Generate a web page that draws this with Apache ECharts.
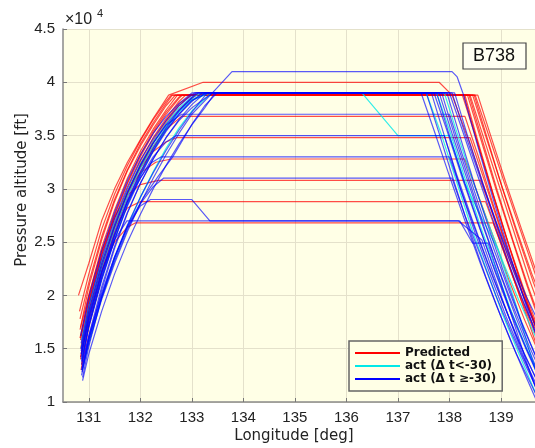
<!DOCTYPE html>
<html>
<head>
<meta charset="utf-8">
<title>B738 pressure altitude</title>
<script src="https://cdn.jsdelivr.net/npm/echarts@6/dist/echarts.min.js"></script>
<style>
html, body { margin: 0; padding: 0; background: #fff; }
#main { width: 535px; height: 448px; }
</style>
</head>
<body>
<div id="main"></div>
<script>
// tick values
const lonTicks = [131, 132, 133, 134, 135, 136, 137, 138, 139];
const altTicks = [1, 1.5, 2, 2.5, 3, 3.5, 4, 4.5];

// tracks: [longitude deg, pressure altitude x10^4 ft]
// predicted profiles (red)
const predicted = [
	[[130.8,2.0],[131,2.3],[131.25,2.7],[131.5,3.0],[131.75,3.25],[132,3.46],[132.25,3.66],[132.55,3.88],[133.22,4.0],[137.8,4.0],[138.05,3.88],[138.4,3.42],[138.7,2.97],[139.0,2.52],[139.3,2.08],[139.7,1.52]],
	[[130.82,1.85],[131,2.2],[131.25,2.62],[131.5,2.95],[131.75,3.22],[132,3.45],[132.25,3.65],[132.5,3.82],[132.6,3.88],[138.25,3.88],[138.5,3.5],[138.8,3.02],[139.1,2.55],[139.4,2.1],[139.7,1.65]],
	[[130.84,1.7],[131,2.08],[131.25,2.52],[131.5,2.88],[131.75,3.17],[132,3.4],[132.25,3.6],[132.5,3.78],[132.68,3.88],[138.4,3.88],[138.65,3.5],[138.95,3.05],[139.25,2.6],[139.55,2.15],[139.7,1.95]],
	[[130.83,1.6],[131,2.0],[131.25,2.45],[131.5,2.8],[131.75,3.1],[132,3.35],[132.25,3.56],[132.5,3.74],[132.72,3.88],[138.5,3.88],[138.75,3.52],[139.05,3.08],[139.35,2.65],[139.7,2.15]],
	[[130.85,1.5],[131,1.92],[131.25,2.38],[131.5,2.75],[131.75,3.05],[132,3.3],[132.25,3.52],[132.5,3.7],[132.75,3.85],[132.82,3.88],[138.35,3.88],[138.6,3.48],[138.9,3.0],[139.2,2.55],[139.5,2.1],[139.7,1.82]],
	[[130.84,1.42],[131,1.85],[131.25,2.3],[131.5,2.68],[131.75,3.0],[132,3.26],[132.25,3.48],[132.5,3.66],[132.75,3.82],[132.88,3.88],[138.45,3.88],[138.7,3.5],[139.0,3.05],[139.3,2.62],[139.6,2.2],[139.7,2.08]],
	[[130.86,1.35],[131,1.75],[131.25,2.22],[131.5,2.6],[131.75,2.93],[132,3.2],[132.25,3.43],[132.5,3.62],[132.75,3.78],[132.97,3.88],[138.3,3.88],[138.55,3.45],[138.85,2.95],[139.15,2.48],[139.45,2.05],[139.7,1.72]],
	[[130.85,1.62],[131,1.95],[131.25,2.4],[131.5,2.76],[131.75,3.06],[132,3.32],[132.25,3.54],[132.5,3.72],[132.75,3.86],[132.8,3.88],[138.55,3.88],[138.8,3.5],[139.1,3.05],[139.4,2.62],[139.7,2.2]],
	[[130.83,1.78],[131,2.12],[131.25,2.55],[131.5,2.9],[131.75,3.18],[132,3.42],[132.25,3.62],[132.5,3.8],[132.62,3.88],[138.38,3.88],[138.63,3.47],[138.93,2.98],[139.23,2.52],[139.53,2.08],[139.7,1.85]],
	[[130.86,1.45],[131,1.8],[131.25,2.26],[131.5,2.64],[131.75,2.96],[132,3.23],[132.25,3.45],[132.5,3.64],[132.75,3.8],[133.0,3.88],[138.28,3.88],[138.53,3.46],[138.83,2.97],[139.13,2.5],[139.43,2.05],[139.7,1.68]],
	[[130.85,1.3],[131,1.7],[131.25,2.16],[131.5,2.55],[131.75,2.88],[132,3.15],[132.25,3.38],[132.5,3.58],[132.75,3.74],[133,3.85],[133.1,3.88],[138.48,3.88],[138.73,3.48],[139.03,3.0],[139.33,2.55],[139.63,2.12],[139.7,2.03]],
	[[130.84,1.4],[131,1.8],[131.25,2.25],[131.5,2.63],[131.75,2.95],[132,3.2],[132.25,3.4],[132.5,3.56],[132.8,3.68],[138.3,3.68],[138.55,3.32],[138.85,2.85],[139.15,2.4],[139.45,1.98],[139.7,1.68]],
	[[130.85,1.52],[131,1.88],[131.25,2.32],[131.5,2.68],[131.75,2.98],[132,3.2],[132.25,3.35],[132.5,3.44],[132.7,3.48],[138.4,3.48],[138.65,3.12],[138.95,2.68],[139.25,2.25],[139.55,1.85],[139.7,1.68]],
	[[130.84,1.6],[131,1.95],[131.25,2.38],[131.5,2.72],[131.75,2.98],[132,3.15],[132.3,3.25],[132.6,3.28],[138.3,3.28],[138.55,2.95],[138.85,2.55],[139.15,2.15],[139.45,1.78],[139.7,1.5]],
	[[130.83,1.68],[131,2.0],[131.25,2.42],[131.5,2.74],[131.75,2.94],[132,3.04],[132.35,3.08],[138.6,3.08],[138.85,2.75],[139.15,2.35],[139.45,1.98],[139.7,1.7]],
	[[130.84,1.58],[131,1.92],[131.25,2.34],[131.5,2.64],[131.75,2.82],[132.0,2.88],[138.7,2.88],[138.95,2.55],[139.25,2.15],[139.55,1.8],[139.7,1.65]],
	[[130.85,1.5],[131,1.84],[131.25,2.24],[131.5,2.5],[131.75,2.64],[131.9,2.68],[138.85,2.68],[139.1,2.35],[139.4,1.95],[139.7,1.6]]
];

// actual tracks, delta t < -30 (cyan)
const actEarly = [
	[[130.86,1.4],[131,1.72],[131.25,2.16],[131.5,2.53],[131.75,2.86],[132,3.13],[132.25,3.36],[132.5,3.56],[132.75,3.72],[133,3.83],[133.35,3.9],[136.3,3.9],[137.0,3.5],[138.0,3.5],[138.3,3.05],[138.6,2.75],[138.94,2.43],[139.3,1.9],[139.62,1.37],[139.7,1.25]],
	[[130.87,1.3],[131,1.55],[131.25,1.98],[131.5,2.34],[131.75,2.65],[132,2.92],[132.25,3.16],[132.5,3.38],[132.75,3.57],[133,3.73],[133.38,3.9],[137.55,3.9],[137.85,3.5],[138.15,3.05],[138.45,2.6],[138.75,2.2],[139.05,1.8],[139.35,1.45],[139.7,1.05]],
	[[130.85,1.5],[131,1.82],[131.25,2.26],[131.5,2.62],[131.75,2.93],[132,3.19],[132.25,3.4],[132.5,3.58],[132.75,3.73],[133,3.84],[133.3,3.9],[137.75,3.9],[138.0,3.55],[138.3,3.1],[138.6,2.65],[138.9,2.25],[139.2,1.85],[139.5,1.5],[139.7,1.3]],
	[[130.86,1.58],[131,1.9],[131.25,2.32],[131.5,2.68],[131.75,2.98],[132,3.23],[132.25,3.44],[132.5,3.61],[132.75,3.76],[133,3.86],[133.2,3.9],[137.9,3.9],[138.15,3.52],[138.45,3.08],[138.75,2.68],[139.05,2.3],[139.35,1.95],[139.7,1.58]]
];

// actual tracks, delta t >= -30 (blue)
const actLate = [
	[[130.86,1.3],[131,1.62],[131.25,2.08],[131.5,2.46],[131.75,2.78],[132,3.05],[132.25,3.28],[132.5,3.48],[132.75,3.64],[133,3.76],[133.4,3.9],[133.78,4.1],[138.05,4.1],[138.15,4.05],[138.26,3.9],[138.55,3.4],[138.85,2.9],[139.15,2.42],[139.45,1.96],[139.7,1.6]],
	[[130.85,1.5],[131,1.85],[131.25,2.3],[131.5,2.66],[131.75,2.97],[132,3.22],[132.25,3.43],[132.5,3.6],[132.75,3.74],[133,3.86],[133.08,3.9],[137.85,3.9],[138.1,3.5],[138.4,3.05],[138.7,2.6],[139.0,2.18],[139.3,1.78],[139.7,1.3]],
	[[130.87,1.38],[131,1.72],[131.25,2.18],[131.5,2.56],[131.75,2.88],[132,3.14],[132.25,3.36],[132.5,3.55],[132.75,3.7],[133,3.82],[133.2,3.9],[137.7,3.9],[137.95,3.55],[138.25,3.1],[138.55,2.68],[138.85,2.28],[139.15,1.9],[139.45,1.55],[139.7,1.28]],
	[[130.86,1.25],[131,1.58],[131.25,2.05],[131.5,2.44],[131.75,2.77],[132,3.05],[132.25,3.28],[132.5,3.48],[132.75,3.65],[133,3.79],[133.25,3.9],[138.0,3.9],[138.25,3.55],[138.55,3.12],[138.85,2.7],[139.15,2.3],[139.45,1.92],[139.7,1.62]],
	[[130.88,1.2],[131,1.45],[131.25,1.85],[131.5,2.2],[131.75,2.5],[132,2.76],[132.25,3.0],[132.5,3.22],[132.75,3.42],[133,3.6],[133.25,3.76],[133.45,3.9],[137.55,3.9],[137.8,3.52],[138.1,3.05],[138.4,2.6],[138.7,2.18],[139.0,1.8],[139.3,1.45],[139.7,1.05]],
	[[130.84,1.62],[131,1.98],[131.25,2.42],[131.5,2.78],[131.75,3.08],[132,3.32],[132.25,3.52],[132.5,3.68],[132.75,3.8],[133.0,3.9],[138.1,3.9],[138.35,3.5],[138.65,3.05],[138.95,2.62],[139.25,2.22],[139.55,1.85],[139.7,1.68]],
	[[130.86,1.45],[131,1.78],[131.25,2.22],[131.5,2.58],[131.75,2.9],[132,3.16],[132.25,3.38],[132.5,3.57],[132.75,3.73],[133,3.85],[133.12,3.9],[137.8,3.9],[138.05,3.52],[138.35,3.08],[138.65,2.65],[138.95,2.25],[139.25,1.88],[139.55,1.52],[139.7,1.36]],
	[[130.87,1.32],[131,1.6],[131.25,2.0],[131.5,2.36],[131.75,2.66],[132,2.92],[132.25,3.15],[132.5,3.36],[132.75,3.55],[133,3.72],[133.3,3.9],[137.45,3.9],[137.7,3.55],[138.0,3.12],[138.3,2.7],[138.6,2.3],[138.9,1.92],[139.2,1.56],[139.5,1.22],[139.7,1.0]],
	[[130.88,1.23],[131,1.52],[131.25,1.98],[131.5,2.35],[131.75,2.65],[132.05,2.91],[132.35,3.12],[132.63,3.3],[133.02,3.62],[133.25,3.78],[133.49,3.9],[137.95,3.9],[138.2,3.5],[138.5,3.02],[138.8,2.58],[139.1,2.15],[139.4,1.75],[139.7,1.4]],
	[[130.85,1.55],[131,1.9],[131.25,2.35],[131.5,2.72],[131.75,3.02],[132,3.27],[132.25,3.47],[132.5,3.64],[132.75,3.78],[133,3.88],[133.05,3.9],[137.65,3.9],[137.9,3.5],[138.2,3.02],[138.5,2.58],[138.8,2.18],[139.1,1.8],[139.4,1.45],[139.7,1.15]],
	[[130.86,1.4],[131,1.7],[131.25,2.14],[131.5,2.52],[131.75,2.85],[132,3.12],[132.25,3.35],[132.5,3.54],[132.75,3.7],[133,3.83],[133.3,3.9],[138.05,3.9],[138.3,3.52],[138.6,3.1],[138.9,2.7],[139.2,2.32],[139.5,1.98],[139.7,1.78]],
	[[130.87,1.28],[131,1.55],[131.25,1.96],[131.5,2.3],[131.75,2.6],[132,2.86],[132.25,3.1],[132.5,3.32],[132.75,3.52],[133,3.7],[133.4,3.9],[137.75,3.9],[138.0,3.5],[138.3,3.05],[138.6,2.62],[138.9,2.2],[139.2,1.82],[139.5,1.48],[139.7,1.27]],
	[[130.85,1.48],[131,1.82],[131.25,2.27],[131.5,2.64],[131.75,2.96],[132,3.22],[132.25,3.43],[132.5,3.6],[132.8,3.7],[138.0,3.7],[138.25,3.32],[138.55,2.88],[138.85,2.45],[139.15,2.05],[139.45,1.68],[139.7,1.4]],
	[[130.86,1.38],[131,1.72],[131.25,2.16],[131.5,2.52],[131.75,2.84],[132,3.1],[132.25,3.3],[132.5,3.44],[132.7,3.5],[137.9,3.5],[138.15,3.12],[138.45,2.7],[138.75,2.3],[139.05,1.92],[139.35,1.56],[139.7,1.2]],
	[[130.85,1.42],[131,1.76],[131.25,2.2],[131.5,2.57],[131.75,2.88],[132,3.1],[132.2,3.24],[132.4,3.3],[138.0,3.3],[138.25,2.95],[138.55,2.55],[138.85,2.16],[139.15,1.8],[139.45,1.45],[139.7,1.2]],
	[[130.87,1.3],[131,1.58],[131.25,1.98],[131.5,2.32],[131.75,2.62],[132,2.86],[132.25,3.02],[132.45,3.1],[138.05,3.1],[138.3,2.75],[138.6,2.38],[138.9,2.0],[139.2,1.65],[139.5,1.32],[139.7,1.12]],
	[[130.86,1.35],[131,1.62],[131.25,2.02],[131.5,2.36],[131.75,2.64],[132,2.84],[132.2,2.9],[133.0,2.9],[133.35,2.7],[138.2,2.7],[138.45,2.49],[138.75,2.49],[139.5,1.37],[139.7,1.1]],
	[[130.85,1.45],[131,1.8],[131.25,2.22],[131.5,2.52],[131.74,2.7],[138.17,2.7],[138.63,2.52],[139.0,2.0],[139.3,1.6],[139.7,1.1]]
];

const NAME_PRED = 'Predicted';
const NAME_EARLY = 'act (Δ t<-30)';
const NAME_LATE = 'act (Δ t ≥-30)';

const chart = echarts.init(document.getElementById('main'), null, { renderer: 'canvas' });

// one series per track, grouped by name for the legend
function trackSeries(tracks, name, color, opacity) {
	return tracks.map((t) => ({
		name: name,
		type: 'line',
		data: t,
		symbol: 'none',
		silent: true,
		clip: true,
		lineStyle: { color: color, width: 1.2, opacity: opacity },
		itemStyle: { color: color }
	}));
}

const series = []
	.concat(trackSeries(predicted, NAME_PRED, '#ff0000', 0.7))
	.concat(trackSeries(actEarly, NAME_EARLY, '#00e8e8', 0.8))
	.concat(trackSeries(actLate, NAME_LATE, '#0000ff', 0.65));

const tickFont = { fontFamily: 'Liberation Sans', fontSize: 15, color: '#222' };
const nameFont = 'normal 15px "DejaVu Sans"';

chart.setOption({
	animation: false,
	backgroundColor: '#ffffff',
	grid: {
		left: 63,
		top: 29,
		right: 0,
		bottom: 46,
		show: true,
		backgroundColor: '#ffffe6',
		borderWidth: 0
	},
	xAxis: {
		type: 'value',
		min: 130.5,
		max: 139.66,
		axisLine: { show: true, onZero: false, lineStyle: { color: '#8a8a8a', width: 1.5 } },
		axisTick: { show: true, inside: true, length: 4, customValues: lonTicks, lineStyle: { color: '#777' } },
		axisLabel: Object.assign({ margin: 8, customValues: lonTicks }, tickFont),
		splitLine: { show: true, lineStyle: { color: '#e4e1cb', width: 1 } }
	},
	yAxis: {
		type: 'value',
		min: altTicks[0],
		max: altTicks[altTicks.length - 1],
		interval: 0.5,
		axisLine: { show: true, lineStyle: { color: '#8a8a8a', width: 1.5 } },
		axisTick: { show: true, inside: true, length: 4, lineStyle: { color: '#777' } },
		axisLabel: Object.assign({ margin: 8, formatter: (v) => String(v) }, tickFont),
		splitLine: { show: true, lineStyle: { color: '#e4e1cb', width: 1 } }
	},
	legend: {
		data: [NAME_PRED, NAME_EARLY, NAME_LATE],
		orient: 'vertical',
		left: 349,
		top: 341,
		icon: 'rect',
		itemWidth: 45,
		itemHeight: 2,
		itemGap: 1,
		padding: [6, 6, 6, 6],
		backgroundColor: '#ffffe6',
		borderColor: '#666',
		borderWidth: 1.5,
		borderRadius: 0,
		selectedMode: false,
		textStyle: { fontFamily: 'DejaVu Sans', fontWeight: 'bold', fontSize: 12, color: '#111' }
	},
	graphic: [
		// exponent above the y axis
		{ type: 'text', style: { x: 65, y: 28, text: '×10', font: 'normal 16px "Liberation Sans"', fill: '#222', textVerticalAlign: 'bottom' } },
		{ type: 'text', style: { x: 97, y: 19, text: '4', font: 'normal 11px "Liberation Sans"', fill: '#222', textVerticalAlign: 'bottom' } },
		// axis names
		{ type: 'text', x: 22, y: 190, rotation: Math.PI / 2, style: { x: 0, y: 0, text: 'Pressure altitude [ft]', font: nameFont, fill: '#222', textAlign: 'center', textVerticalAlign: 'middle' } },
		{ type: 'text', style: { x: 294, y: 436, text: 'Longitude [deg]', font: nameFont, fill: '#222', textAlign: 'center', textVerticalAlign: 'middle' } },
		// aircraft type label
		{ type: 'rect', shape: { x: 463, y: 43, width: 63, height: 26 }, style: { fill: '#fffff2', stroke: '#444', lineWidth: 1.2 }, z: 10 },
		{ type: 'text', style: { x: 494, y: 56.5, text: 'B738', font: 'normal 18px "Liberation Sans"', fill: '#111', textAlign: 'center', textVerticalAlign: 'middle' }, z: 11 }
	],
	series: series
});
</script>
</body>
</html>
